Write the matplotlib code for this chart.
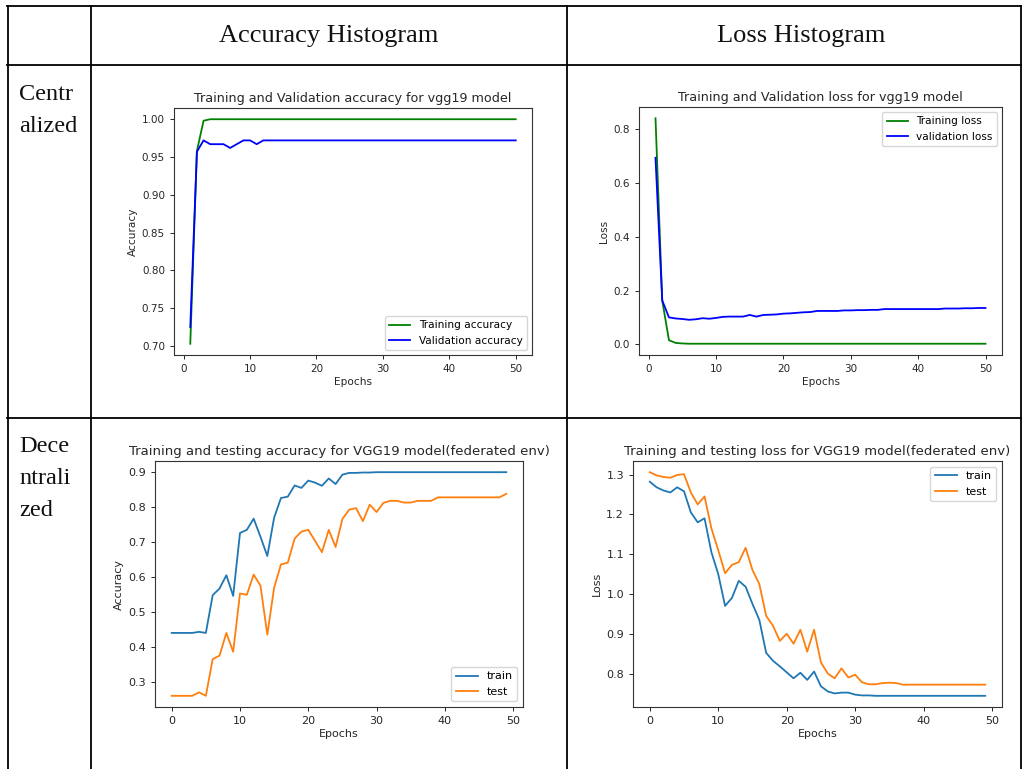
import matplotlib
matplotlib.use("Agg")
import matplotlib.pyplot as plt
from matplotlib.lines import Line2D
from matplotlib.ticker import MultipleLocator

# ---------------- data ----------------
cen_epochs = list(range(1, 51))
cen_train_acc = [0.703, 0.958, 0.998, 1.0] + [1.0] * 46
cen_val_acc = [0.725, 0.957, 0.972, 0.967, 0.967, 0.967, 0.962, 0.967, 0.972, 0.972,
               0.967, 0.972] + [0.972] * 38
cen_train_loss = [0.841, 0.163, 0.015, 0.005, 0.003] + [0.002] * 45
cen_val_loss = [0.694, 0.163, 0.100, 0.096, 0.094, 0.091, 0.093, 0.097, 0.095, 0.098,
                0.102, 0.103, 0.103, 0.103, 0.109, 0.103, 0.109, 0.110, 0.111, 0.114,
                0.115, 0.117, 0.119, 0.120, 0.124, 0.124, 0.124, 0.124, 0.126, 0.126,
                0.127, 0.127, 0.128, 0.128, 0.131, 0.131, 0.131, 0.131, 0.131, 0.131,
                0.131, 0.131, 0.131, 0.133, 0.133, 0.133, 0.134, 0.134, 0.135, 0.135]

fed_epochs = list(range(0, 50))
fed_train_acc = [0.44, 0.44, 0.44, 0.44, 0.443, 0.44, 0.548, 0.567, 0.605, 0.546,
                 0.726, 0.735, 0.767, 0.715, 0.660, 0.770, 0.826, 0.830, 0.862, 0.855,
                 0.876, 0.870, 0.861, 0.882, 0.866, 0.893, 0.898, 0.898, 0.899, 0.899,
                 0.900] + [0.900] * 19
fed_test_acc = [0.26, 0.26, 0.26, 0.26, 0.270, 0.26, 0.365, 0.375, 0.440, 0.386,
                0.553, 0.549, 0.607, 0.575, 0.435, 0.570, 0.636, 0.641, 0.710, 0.730,
                0.735, 0.703, 0.671, 0.735, 0.686, 0.766, 0.793, 0.797, 0.760, 0.807,
                0.786, 0.812, 0.818, 0.818, 0.813, 0.813, 0.818, 0.818, 0.818, 0.828,
                0.828, 0.828, 0.828, 0.828, 0.828, 0.828, 0.828, 0.828, 0.828, 0.838]
fed_train_loss = [1.282, 1.268, 1.260, 1.255, 1.268, 1.258, 1.205, 1.180, 1.190, 1.105,
                  1.050, 0.970, 0.990, 1.033, 1.018, 0.975, 0.935, 0.852, 0.832, 0.818,
                  0.803, 0.788, 0.802, 0.784, 0.805, 0.768, 0.755, 0.750, 0.752, 0.752,
                  0.747, 0.745, 0.745] + [0.744] * 17
fed_test_loss = [1.306, 1.298, 1.294, 1.292, 1.299, 1.301, 1.255, 1.225, 1.245, 1.165,
                 1.110, 1.052, 1.073, 1.080, 1.116, 1.060, 1.025, 0.945, 0.920, 0.882,
                 0.900, 0.875, 0.910, 0.855, 0.910, 0.828, 0.800, 0.788, 0.813, 0.790,
                 0.797, 0.778, 0.773, 0.773, 0.776, 0.777, 0.776, 0.772] + [0.772] * 12

col_headers = ["Accuracy Histogram", "Loss Histogram"]
row_labels = [["Centr", "alized"], ["Dece", "ntrali", "zed"]]

# ---------------- figure ----------------
W, H = 1022, 769
fig = plt.figure(figsize=(W / 100, H / 100), dpi=100)
fig.patch.set_facecolor("white")

TXT = "#262626"

def px_axes(l, t, r, b):
    return fig.add_axes([l / W, 1 - b / H, (r - l) / W, (b - t) / H])

def style(ax, fs):
    ax.tick_params(labelsize=fs, colors=TXT, length=3, width=0.7)
    for s in ax.spines.values():
        s.set_linewidth(0.8)
        s.set_color("#333333")

# top-left
ax1 = px_axes(174, 108, 532, 355)
ax1.plot(cen_epochs, cen_train_acc, color="g", lw=1.3, label="Training accuracy")
ax1.plot(cen_epochs, cen_val_acc, color="b", lw=1.3, label="Validation accuracy")
ax1.set_title("Training and Validation accuracy for vgg19 model", fontsize=9.2, color=TXT, pad=4)
ax1.set_xlabel("Epochs", fontsize=7.6, color=TXT, labelpad=2)
ax1.set_ylabel("Accuracy", fontsize=7.6, color=TXT, labelpad=3)
ax1.yaxis.set_major_locator(MultipleLocator(0.05))
ax1.xaxis.set_major_locator(MultipleLocator(10))
ax1.legend(loc="lower right", fontsize=7.6, handlelength=2)
style(ax1, 7.5)

# top-right
ax2 = px_axes(639, 107, 1002, 355)
ax2.plot(cen_epochs, cen_train_loss, color="g", lw=1.3, label="Training loss")
ax2.plot(cen_epochs, cen_val_loss, color="b", lw=1.3, label="validation loss")
ax2.set_title("Training and Validation loss for vgg19 model", fontsize=9.2, color=TXT, pad=4)
ax2.set_xlabel("Epochs", fontsize=7.6, color=TXT, labelpad=2)
ax2.set_ylabel("Loss", fontsize=7.6, color=TXT, labelpad=3)
ax2.yaxis.set_major_locator(MultipleLocator(0.2))
ax2.xaxis.set_major_locator(MultipleLocator(10))
ax2.legend(loc="upper right", fontsize=7.6, handlelength=2)
style(ax2, 7.5)

# bottom-left
ax3 = px_axes(155, 461, 523, 707)
ax3.plot(fed_epochs, fed_train_acc, color="tab:blue", lw=1.3, label="train")
ax3.plot(fed_epochs, fed_test_acc, color="tab:orange", lw=1.3, label="test")
ax3.set_title("Training and testing accuracy for VGG19 model(federated env)", fontsize=9.5, color=TXT, pad=4)
ax3.set_xlabel("Epochs", fontsize=8, color=TXT, labelpad=2)
ax3.set_ylabel("Accuracy", fontsize=8, color=TXT, labelpad=3)
ax3.yaxis.set_major_locator(MultipleLocator(0.1))
ax3.xaxis.set_major_locator(MultipleLocator(10))
ax3.legend(loc="lower right", fontsize=8, handlelength=2)
style(ax3, 8)

# bottom-right
ax4 = px_axes(633, 461, 1002, 707)
ax4.plot(fed_epochs, fed_train_loss, color="tab:blue", lw=1.3, label="train")
ax4.plot(fed_epochs, fed_test_loss, color="tab:orange", lw=1.3, label="test")
ax4.set_title("Training and testing loss for VGG19 model(federated env)", fontsize=9.5, color=TXT, pad=4)
ax4.set_xlabel("Epochs", fontsize=8, color=TXT, labelpad=2)
ax4.set_ylabel("Loss", fontsize=8, color=TXT, labelpad=3)
ax4.yaxis.set_major_locator(MultipleLocator(0.1))
ax4.xaxis.set_major_locator(MultipleLocator(10))
ax4.legend(loc="upper right", fontsize=8, handlelength=2)
style(ax4, 8)

# ---------------- table grid ----------------
def hline(y, x0, x1):
    fig.add_artist(Line2D([x0 / W, x1 / W], [1 - y / H, 1 - y / H], color="black", lw=1.3))

def vline(x, y0, y1):
    fig.add_artist(Line2D([x / W, x / W], [1 - y0 / H, 1 - y1 / H], color="black", lw=1.3))

for y in (6, 65, 418):
    hline(y, 7, 1021)
for x in (7.5, 91, 567, 1020.5):
    vline(x, 6, 769)

serif = ["Liberation Serif", "DejaVu Serif"]
fig.text(329 / W, 1 - 36 / H, col_headers[0], ha="center", va="center",
         fontsize=19, family=serif, color="#111111")
fig.text(801 / W, 1 - 36 / H, col_headers[1], ha="center", va="center",
         fontsize=19, family=serif, color="#111111")

for i, ln in enumerate(row_labels[0]):
    fig.text(19 / W, 1 - (95 + 31 * i) / H, ln, ha="left", va="center",
             fontsize=17.5, family=serif, color="#111111")
for i, ln in enumerate(row_labels[1]):
    fig.text(19 / W, 1 - (447 + 32 * i) / H, ln, ha="left", va="center",
             fontsize=17.5, family=serif, color="#111111")

fig.savefig("out.png", dpi=100, facecolor="white")
